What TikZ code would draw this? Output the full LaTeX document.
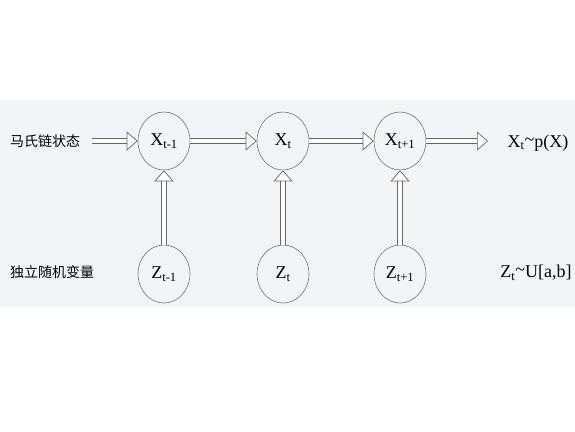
\documentclass[tikz,border=0pt]{standalone}
\usepackage{fontspec}
\setmainfont{Liberation Serif}
\newfontfamily\cjk{Noto Sans CJK SC}
\usetikzlibrary{arrows.meta,shapes.geometric}
\definecolor{scanbg}{rgb}{0.95,0.96,0.97}
\begin{document}
\begin{tikzpicture}[x=1pt,y=-1pt]
        {

          \tikzstyle{state}=[ellipse,draw=black!55,line width=0.6pt,minimum width=52pt,minimum height=58pt,inner sep=0pt,font=\fontsize{18}{20}\selectfont]
          \tikzstyle{texto}=[font=\fontsize{18}{20}\selectfont]
          \tikzstyle{hanzi}=[font=\cjk\fontsize{14}{16}\selectfont]
          \tikzstyle{flow}=[draw=black!60,line width=0.7pt,double=white,double distance=4pt,-{Triangle[open,length=11pt,width=19pt,fill=white]}]
          \useasboundingbox (0,0) rectangle (575,431);
          \fill [scanbg] (0,100) rectangle (575,307);
          \begin{scope}

            \node [hanzi] (mc) at (45,141) {马氏链状态};
            \node [hanzi] (dl) at (52,272) {独立随机变量};

            \node [state] (x1) at (164,141) {X\textsubscript{t-1}};
            \node [state] (x2) at (283,141) {X\textsubscript{t}};
            \node [state] (x3) at (400,141) {X\textsubscript{t+1}};

            \node [state] (z1) at (164,274) {Z\textsubscript{t-1}};
            \node [state] (z2) at (283,274) {Z\textsubscript{t}};
            \node [state] (z3) at (400,274) {Z\textsubscript{t+1}};

            \node [texto] (px) at (538,143) {X\textsubscript{t}\raisebox{0.25ex}{\textasciitilde}p(X)};
            \node [texto] (pu) at (536,273) {Z\textsubscript{t}\raisebox{0.25ex}{\textasciitilde}U[a,b]};

            \coordinate (out) at (488,141);

            \draw [flow] (mc.east) ++(8,0) -- (x1);
            \draw [flow] (x1) -- (x2);
            \draw [flow] (x2) -- (x3);
            \draw [flow] (x3) -- (out);

            \draw [flow] (z1) -- (x1);
            \draw [flow] (z2) -- (x2);
            \draw [flow] (z3) -- (x3);

          \end{scope}
        }
\end{tikzpicture}
\end{document}
